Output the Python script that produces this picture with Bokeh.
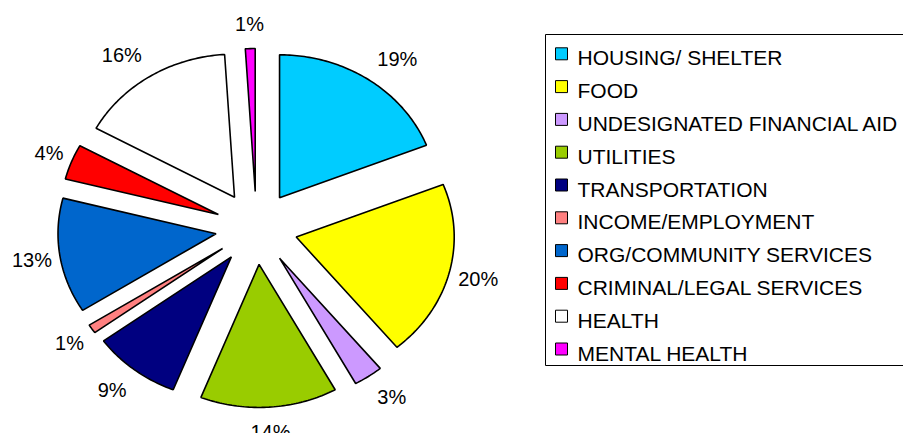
import math
from bokeh.plotting import figure
from bokeh.models import Range1d, ColumnDataSource
from bokeh.embed import file_html
from bokeh.resources import INLINE
from bokeh.core.properties import value

# ---- data ----
categories = ["HOUSING/ SHELTER", "FOOD", "UNDESIGNATED FINANCIAL AID", "UTILITIES",
              "TRANSPORTATION", "INCOME/EMPLOYMENT", "ORG/COMMUNITY SERVICES",
              "CRIMINAL/LEGAL SERVICES", "HEALTH", "MENTAL HEALTH"]
percents = [19, 20, 3, 14, 9, 1, 13, 4, 16, 1]
colors = ["#00CCFF", "#FFFF00", "#CC99FF", "#99CC00", "#000080",
          "#FF8080", "#0066CC", "#FF0000", "#FFFFFF", "#FF00FF"]
labels = [f"{v}%" for v in percents]

# ---- layout ----
W, H = 903, 433
CX, CY = 256, 227.5      # pie centre (px)
RX, RY = 158, 143        # pie radii (px)
EX, EY = 41, 36.5        # explosion offset
FONT = value("Liberation Sans")

p = figure(width=W, height=H, x_range=Range1d(0, W), y_range=Range1d(H, 0),
           output_backend="svg", toolbar_location=None, min_border=0,
           x_axis_location=None, y_axis_location=None)
p.grid.visible = False
p.outline_line_color = None
p.background_fill_color = "white"
p.border_fill_color = "white"

total = float(sum(percents))
xs, ys = [], []
lx, ly, la = [], [], []
start = 0.0
for v in percents:
    a0 = start / total * 2 * math.pi
    a1 = (start + v) / total * 2 * math.pi
    mid = (a0 + a1) / 2
    dx, dy = math.sin(mid), -math.cos(mid)
    ax, ay = CX + EX * dx, CY + EY * dy
    n = max(4, int(v * 4))
    px, py = [ax], [ay]
    for k in range(n + 1):
        t = a0 + (a1 - a0) * k / n
        px.append(ax + RX * math.sin(t))
        py.append(ay - RY * math.cos(t))
    xs.append(px)
    ys.append(py)
    ox, oy = ax + RX * dx, ay + RY * dy
    if dx > 0.3:
        lx.append(ox + 9); la.append("left")
    elif dx < -0.3:
        lx.append(ox - 8); la.append("right")
    else:
        lx.append(ox + 24 * dx); la.append("center")
    ly.append(oy + 25 * dy)
    start += v

src = ColumnDataSource(dict(xs=xs, ys=ys, color=colors, name=categories))
p.patches("xs", "ys", source=src, fill_color="color", line_color="black", line_width=1.6)

lsrc = ColumnDataSource(dict(x=lx, y=ly, text=labels, align=la))
p.text("x", "y", text="text", source=lsrc, text_align="align", text_baseline="middle",
       text_font=FONT, text_font_size="20px", text_color="black")

# ---- legend ----
LX0, LTOP, LBOT = 545, 34, 365
p.quad(left=[LX0], right=[W + 3], top=[LTOP], bottom=[LBOT],
       fill_color="white", line_color="black", line_width=1)
n_items = len(categories)
base0, step = 57.3, 32.8
leg_src = ColumnDataSource(dict(
    sx=[561] * n_items,
    sy=[base0 - 4 + i * step for i in range(n_items)],
    tx=[577] * n_items,
    ty=[base0 + i * step for i in range(n_items)],
    text=categories, color=colors))
p.scatter("sx", "sy", source=leg_src, marker="square", size=12,
          fill_color="color", line_color="black", line_width=1)
p.text("tx", "ty", text="text", source=leg_src, text_baseline="alphabetic",
       text_font=FONT, text_font_size="21px", text_color="black")

open("out.html", "w").write(file_html(p, INLINE))
